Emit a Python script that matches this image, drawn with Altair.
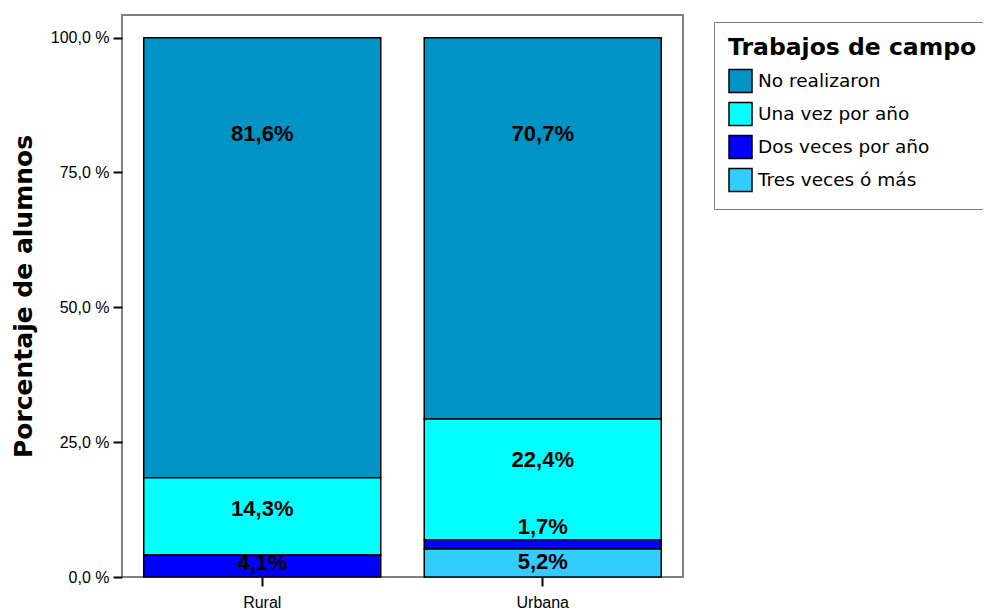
import altair as alt
import pandas as pd

categories = ["Rural", "Urbana"]
series = ["No realizaron", "Una vez por año", "Dos veces por año", "Tres veces ó más"]
rural_values = [81.6, 14.3, 4.1, 0.0]
urbana_values = [70.7, 22.4, 1.7, 5.2]
# anchor (in % units) where the value label is written inside each segment
rural_label_pos = [82.2, 12.6, 2.6, 0.0]
urbana_label_pos = [82.2, 21.7, 9.3, 2.7]
colors = ["#0094C6", "#00FFFF", "#0000FF", "#33CCFF"]
y_ticks = [0, 25, 50, 75, 100]

rows = []
for cat, vals, poss in [("Rural", rural_values, rural_label_pos),
                        ("Urbana", urbana_values, urbana_label_pos)]:
    for i, (s, v, p) in enumerate(zip(series, vals, poss)):
        if v <= 0:
            continue
        rows.append({
            "cat": cat,
            "series": s,
            "value": v,
            "ord": len(series) - 1 - i,
            "pos": p,
            "label": f"{v:.1f}".replace(".", ",") + "%",
        })
df = pd.DataFrame(rows)

x_enc = alt.X(
    "cat:N", sort=categories,
    scale=alt.Scale(paddingInner=0.155, paddingOuter=0.0775),
    axis=alt.Axis(title=None, labelAngle=0, domain=False, grid=False,
                  labelFont="Liberation Sans", labelFontSize=16, labelColor="black",
                  tickColor="black", tickWidth=2, tickSize=9, labelPadding=8),
)

bars = alt.Chart(df).mark_bar(stroke="black", strokeWidth=1.5, opacity=1).encode(
    x=x_enc,
    y=alt.Y(
        "value:Q", stack="zero",
        scale=alt.Scale(domain=[0, 104.2], nice=False, zero=True),
        axis=alt.Axis(
            values=y_ticks, grid=False, domain=False,
            labelExpr="replace(format(datum.value, '.1f'), '.', ',') + ' %'",
            labelFont="Liberation Sans", labelFontSize=16, labelColor="black",
            tickColor="black", tickWidth=2, tickSize=9, labelPadding=4,
            title="Porcentaje de alumnos", titleFont="DejaVu Sans", titleFontSize=25,
            titleFontWeight="bold", titleColor="black", titlePadding=14,
        ),
    ),
    color=alt.Color(
        "series:N",
        scale=alt.Scale(domain=series, range=colors),
        legend=alt.Legend(
            title="Trabajos de campo", orient="none", legendX=592, legendY=7,
            titleFont="DejaVu Sans", titleFontSize=23.5, titleFontWeight="bold",
            titleColor="black", titlePadding=9, titleLimit=500,
            labelFont="DejaVu Sans", labelFontSize=18.5, labelColor="black",
            labelLimit=500, labelOffset=5,
            symbolType="square", symbolSize=529, symbolStrokeColor="black",
            symbolStrokeWidth=1.5, symbolOpacity=1,
            strokeColor="#808080", fillColor="white", padding=14, rowPadding=4,
        ),
    ),
    order=alt.Order("ord:Q", sort="ascending"),
)

labels = alt.Chart(df).mark_text(
    font="Liberation Sans Narrow, Arial Narrow, Liberation Sans", fontSize=22,
    fontWeight="bold", color="black", baseline="middle", align="center",
).encode(
    x=alt.X("cat:N", sort=categories),
    y=alt.Y("pos:Q"),
    text="label:N",
)

chart = alt.layer(bars, labels).properties(
    width=561, height=562,
    autosize=alt.AutoSizeParams(type="none"),
    padding={"left": 114, "top": 7, "right": 300, "bottom": 35},
    background="white",
).configure_view(stroke="#808080", strokeWidth=2)

chart.save("out.html", embed_options={"renderer": "svg", "actions": False})
